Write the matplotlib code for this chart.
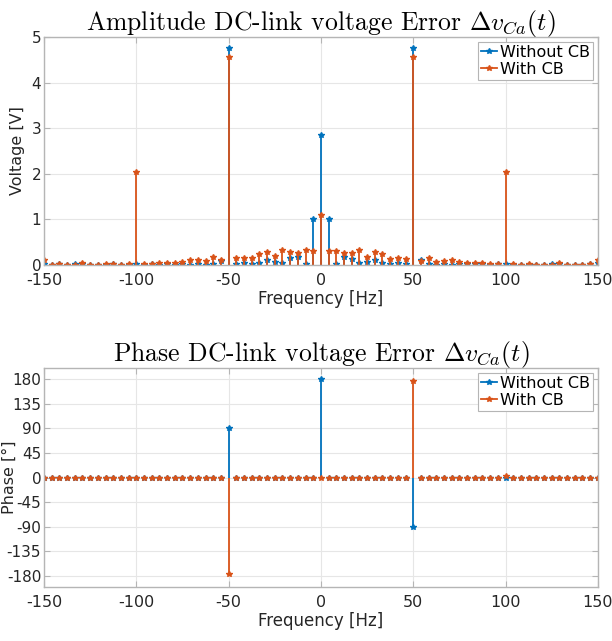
import matplotlib
matplotlib.use("Agg")
import matplotlib.pyplot as plt
from matplotlib.lines import Line2D

plt.rcParams['mathtext.fontset'] = 'cm'
plt.rcParams['font.family'] = ['DejaVu Sans']
plt.rcParams['axes.unicode_minus'] = False

freq = [-150.0, -145.83, -141.67, -137.5, -133.33, -129.17, -125.0, -120.83, -116.67, -112.5,
        -108.33, -104.17, -100.0, -95.83, -91.67, -87.5, -83.33, -79.17, -75.0, -70.83,
        -66.67, -62.5, -58.33, -54.17, -50.0, -45.83, -41.67, -37.5, -33.33, -29.17,
        -25.0, -20.83, -16.67, -12.5, -8.33, -4.17, 0.0, 4.17, 8.33, 12.5,
        16.67, 20.83, 25.0, 29.17, 33.33, 37.5, 41.67, 45.83, 50.0, 54.17,
        58.33, 62.5, 66.67, 70.83, 75.0, 79.17, 83.33, 87.5, 91.67, 95.83,
        100.0, 104.17, 108.33, 112.5, 116.67, 120.83, 125.0, 129.17, 133.33, 137.5,
        141.67, 145.83, 150.0]

amp_without = [0.03, 0.01, 0.02, 0.0, 0.02, 0.02, 0.0, 0.01, 0.01, 0.02,
               0.0, 0.01, 0.02, 0.01, 0.02, 0.01, 0.02, 0.01, 0.02, 0.0,
               0.02, 0.01, 0.02, 0.09, 4.75, 0.02, 0.05, 0.02, 0.04, 0.10,
               0.06, 0.04, 0.15, 0.18, 0.03, 1.0, 2.85, 1.0, 0.02, 0.18,
               0.13, 0.04, 0.06, 0.10, 0.04, 0.015, 0.05, 0.015, 4.75, 0.10,
               0.02, 0.0, 0.02, 0.01, 0.03, 0.02, 0.03, 0.02, 0.01, 0.03,
               0.02, 0.01, 0.01, 0.01, 0.01, 0.0, 0.02, 0.02, 0.01, 0.0,
               0.01, 0.03, 0.04]

amp_with = [0.11, 0.01, 0.02, 0.0, 0.01, 0.05, 0.0, 0.0, 0.02, 0.03,
            0.0, 0.03, 2.03, 0.02, 0.02, 0.04, 0.05, 0.05, 0.07, 0.12,
            0.11, 0.08, 0.17, 0.10, 4.57, 0.15, 0.16, 0.15, 0.24, 0.29,
            0.19, 0.33, 0.29, 0.26, 0.32, 0.31, 1.10, 0.31, 0.31, 0.26,
            0.27, 0.32, 0.18, 0.28, 0.24, 0.14, 0.15, 0.14, 4.57, 0.08,
            0.15, 0.07, 0.09, 0.10, 0.06, 0.045, 0.05, 0.04, 0.02, 0.02,
            2.03, 0.03, 0.0, 0.02, 0.01, 0.0, 0.0, 0.05, 0.0, 0.0,
            0.01, 0.02, 0.12]

phase_without = [0] * 24 + [90] + [0] * 11 + [180] + [0] * 11 + [-90] + [0] * 24
phase_with = [0] * 12 + [-1] + [0] * 11 + [-177] + [0] * 23 + [177] + [0] * 11 + [2] + [0] * 12

c_without = '#0072BD'
c_with = '#D95319'

x_ticks = [-150, -100, -50, 0, 50, 100, 150]
amp_ticks = [0, 1, 2, 3, 4, 5]
phase_ticks = [-180, -135, -90, -45, 0, 45, 90, 135, 180]

fig = plt.figure(figsize=(6.12, 6.41), dpi=100)
ax1 = fig.add_axes([0.0719, 0.5866, 0.905, 0.3557])
ax2 = fig.add_axes([0.0719, 0.0842, 0.905, 0.3417])

def draw_stem(ax, y, color):
    ml, sl, bl = ax.stem(freq, y, basefmt=' ')
    plt.setp(sl, color=color, linewidth=1.3)
    plt.setp(ml, color=color, marker='*', markersize=4)

for ax, yw, yc in [(ax1, amp_without, amp_with), (ax2, phase_without, phase_with)]:
    draw_stem(ax, yw, c_without)
    draw_stem(ax, yc, c_with)
    ax.set_xlim(-150, 150)
    ax.set_xticks(x_ticks)
    ax.grid(True, color='#e6e6e6', linewidth=0.8)
    ax.set_axisbelow(True)
    for s in ax.spines.values():
        s.set_color('#b5b5b5')
        s.set_linewidth(1.0)
    ax.tick_params(direction='in', length=4, color='#b5b5b5', labelsize=11,
                   labelcolor='#262626', top=True, right=True)
    ax.tick_params(axis='x', pad=6, labelsize=11.5)
    ax.tick_params(axis='y', pad=2)
    ax.set_xlabel('Frequency [Hz]', fontsize=12, color='#262626', labelpad=1)
    handles = [Line2D([], [], color=c_without, marker='*', markersize=4, linewidth=1.3, markevery=[1]),
               Line2D([], [], color=c_with, marker='*', markersize=4, linewidth=1.3, markevery=[1])]
    leg = ax.legend(handles, ['Without CB', 'With CB'], loc='upper right', fontsize=11.5,
                    handlelength=1.0, handletextpad=0.2, borderpad=0.2, labelspacing=0.1,
                    fancybox=False, framealpha=1, edgecolor='#b5b5b5', borderaxespad=0.3)
    leg.get_frame().set_linewidth(0.8)

ax1.set_ylim(0, 5)
ax1.set_yticks(amp_ticks)
ax1.set_ylabel('Voltage [V]', fontsize=11.5, color='#262626')
ax1.yaxis.set_label_coords(-0.034, 0.5)
ax1.set_title(r'Amplitude DC-link voltage Error $\Delta v_{Ca}(t)$', fontsize=18.5,
              fontfamily='cmr10', pad=5)

ax2.set_ylim(-200, 200)
ax2.set_yticks(phase_ticks)
ax2.set_ylabel('Phase [°]', fontsize=11.5, color='#262626')
ax2.yaxis.set_label_coords(-0.05, 0.5)
ax2.set_title(r'Phase DC-link voltage Error $\Delta v_{Ca}(t)$', fontsize=18.5,
              fontfamily='cmr10', pad=5)

fig.savefig('out.png', dpi=100)
